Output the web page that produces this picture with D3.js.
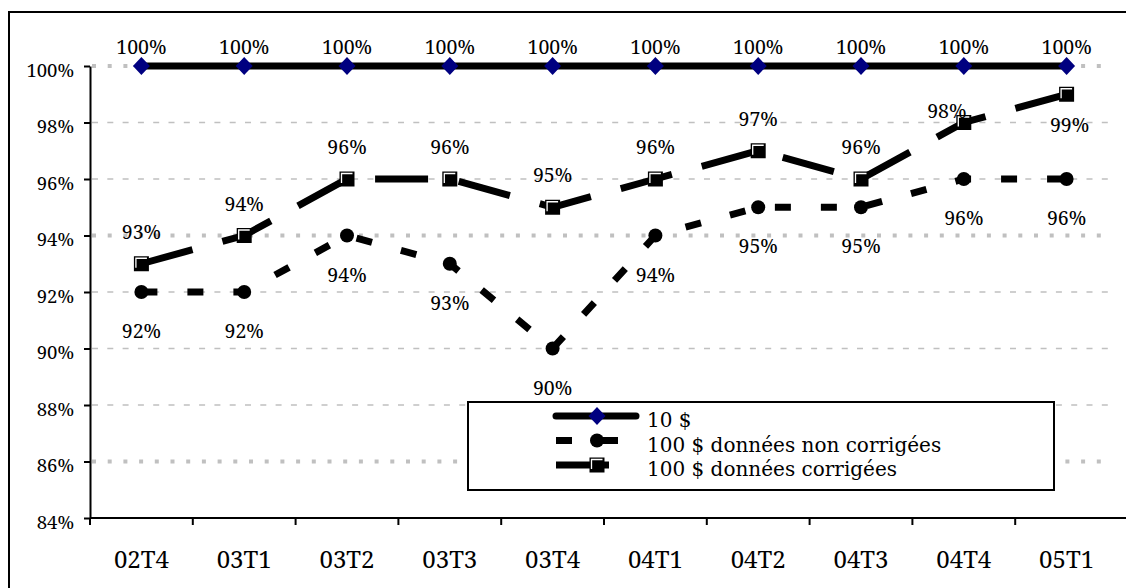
<!DOCTYPE html>
<html>
<head>
<meta charset="utf-8">
<script src="https://cdn.jsdelivr.net/npm/d3@7"></script>
<style>
  html, body { margin: 0; padding: 0; background: #fff; }
  svg { display: block; font-family: "Noto Serif", "DejaVu Serif", serif; }
</style>
</head>
<body>
<svg id="chart" width="1126" height="588"></svg>
<script>
// --- DATA ---
const categories = ["02T4", "03T1", "03T2", "03T3", "03T4", "04T1", "04T2", "04T3", "04T4", "05T1"];
const tenDollar = [100, 100, 100, 100, 100, 100, 100, 100, 100, 100];
const hundredRaw = [92, 92, 94, 93, 90, 94, 95, 95, 96, 96];
const hundredCorrected = [93, 94, 96, 96, 95, 96, 97, 96, 98, 99];
const yTickValues = [84, 86, 88, 90, 92, 94, 96, 98, 100];
const seriesNames = ["10 $", "100 $ données non corrigées", "100 $ données corrigées"];

// --- LAYOUT ---
const width = 1126, height = 588;
const marginLeft = 90, marginRight = 8, marginTop = 66, marginBottom = 70;
const FONT = "Noto Serif";

const x = d3.scaleBand()
    .domain(categories)
    .range([marginLeft, width - marginRight])
    .padding(0);

const y = d3.scaleLinear()
    .domain([84, 100])
    .range([height - marginBottom, marginTop]);

const cx = c => x(c) + x.bandwidth() / 2;

const svg = d3.select("#chart");

// outer frame
svg.append("rect")
    .attr("x", 9).attr("y", 12)
    .attr("width", width + 20).attr("height", height + 20)
    .attr("fill", "none").attr("stroke", "#000").attr("stroke-width", 2);

// gridlines (some rows are drawn as square dots, others as fine dashes)
const boldRows = [86, 94, 100];
svg.append("g")
    .selectAll("line")
    .data(yTickValues.filter(v => v !== 84))
    .join("line")
      .attr("x1", marginLeft + 2)
      .attr("x2", 1110)
      .attr("y1", d => y(d))
      .attr("y2", d => y(d))
      .attr("stroke", "#c0c0c0")
      .attr("stroke-width", d => boldRows.includes(d) ? 4 : 1.7)
      .attr("stroke-dasharray", d => boldRows.includes(d) ? "4,11.7" : "6,9.3");

// y axis
const yAxis = svg.append("g")
    .attr("transform", `translate(${marginLeft},0)`)
    .call(d3.axisLeft(y).tickValues(yTickValues).tickSize(6).tickSizeOuter(0).tickFormat(d => d + "%"))
    .attr("font-family", FONT);
yAxis.select(".domain").attr("stroke-width", 2);
yAxis.selectAll(".tick line").attr("stroke-width", 2);
yAxis.selectAll(".tick text")
    .attr("x", -16).attr("dy", null).attr("y", 10)
    .attr("font-size", 18.5).attr("fill", "#000");

// x axis: ticks at category boundaries, labels centred in bands
const xAxis = svg.append("g")
    .attr("transform", `translate(0,${height - marginBottom})`);
xAxis.append("line")
    .attr("x1", marginLeft).attr("x2", width + 5)
    .attr("stroke", "#000").attr("stroke-width", 2);
xAxis.selectAll(".bt")
    .data(categories)
    .join("line")
      .attr("class", "bt")
      .attr("x1", d => x(d)).attr("x2", d => x(d))
      .attr("y1", 0).attr("y2", 7)
      .attr("stroke", "#000").attr("stroke-width", 2);
xAxis.selectAll("text")
    .data(categories)
    .join("text")
      .attr("x", d => cx(d))
      .attr("y", 50)
      .attr("text-anchor", "middle")
      .attr("font-size", 24)
      .text(d => d);

// --- LINES ---
const line = d3.line()
    .x((d, i) => cx(categories[i]))
    .y(d => y(d));

svg.append("path")
    .attr("d", line(tenDollar))
    .attr("fill", "none").attr("stroke", "#000").attr("stroke-width", 7);

svg.append("path")
    .attr("d", line(hundredRaw))
    .attr("fill", "none").attr("stroke", "#000").attr("stroke-width", 7)
    .attr("stroke-dasharray", "16,30");

svg.append("path")
    .attr("d", line(hundredCorrected))
    .attr("fill", "none").attr("stroke", "#000").attr("stroke-width", 7)
    .attr("stroke-dasharray", "53,31");

// --- MARKERS ---
function diamond(g) {
    g.append("path")
        .attr("d", "M-8.5,0L0,-9L8.5,0L0,9Z")
        .attr("fill", "#000080");
}
function dot(g) {
    g.append("circle").attr("r", 7).attr("fill", "#000");
}
function square(g) {
    g.append("rect").attr("x", -7.5).attr("y", -7.5).attr("width", 15).attr("height", 15).attr("fill", "#000");
    g.append("path").attr("d", "M-5.5,4V-5.5H5.5").attr("fill", "none").attr("stroke", "#fff").attr("stroke-width", 1.3);
}

function drawMarkers(values, shape) {
    svg.append("g")
        .selectAll("g")
        .data(values)
        .join("g")
          .attr("transform", (d, i) => `translate(${cx(categories[i])},${y(d)})`)
          .each(function() { shape(d3.select(this)); });
}
drawMarkers(tenDollar, diamond);
drawMarkers(hundredRaw, dot);
drawMarkers(hundredCorrected, square);

// --- DATA LABELS ---
function drawLabels(values, offset) {
    svg.append("g")
        .attr("font-size", 19.5)
        .selectAll("text")
        .data(values)
        .join("text")
          .attr("x", (d, i) => cx(categories[i]) + offset(i)[0])
          .attr("y", (d, i) => y(d) + offset(i)[1])
          .attr("text-anchor", "middle")
          .text(d => d + "%");
}
drawLabels(tenDollar, () => [0, -12]);
drawLabels(hundredRaw, () => [0, 46]);
drawLabels(hundredCorrected, i => i === 8 ? [-17, -5] : i === 9 ? [3, 38] : [0, -25]);

// --- LEGEND ---
const legend = svg.append("g").attr("transform", "translate(468,402)");
legend.append("rect")
    .attr("width", 586).attr("height", 88)
    .attr("fill", "#fff").attr("stroke", "#000").attr("stroke-width", 2);

const rowY = d3.scalePoint().domain(seriesNames).range([14, 63]);
const dashes = [null, "16,30", "53,31"];
const shapes = [diamond, dot, square];

seriesNames.forEach((name, i) => {
    const row = legend.append("g").attr("transform", `translate(0,${rowY(name)})`);
    row.append("line")
        .attr("x1", 88).attr("x2", i === 0 ? 168 : 172)
        .attr("stroke", "#000").attr("stroke-width", 7)
        .attr("stroke-linecap", i === 0 ? "round" : "butt")
        .attr("stroke-dasharray", dashes[i]);
    const m = row.append("g").attr("transform", "translate(129,0)");
    shapes[i](m);
    row.append("text")
        .attr("x", 179).attr("y", 11)
        .attr("font-family", "DejaVu Serif")
        .attr("font-size", 20)
        .text(name);
});
</script>
</body>
</html>
